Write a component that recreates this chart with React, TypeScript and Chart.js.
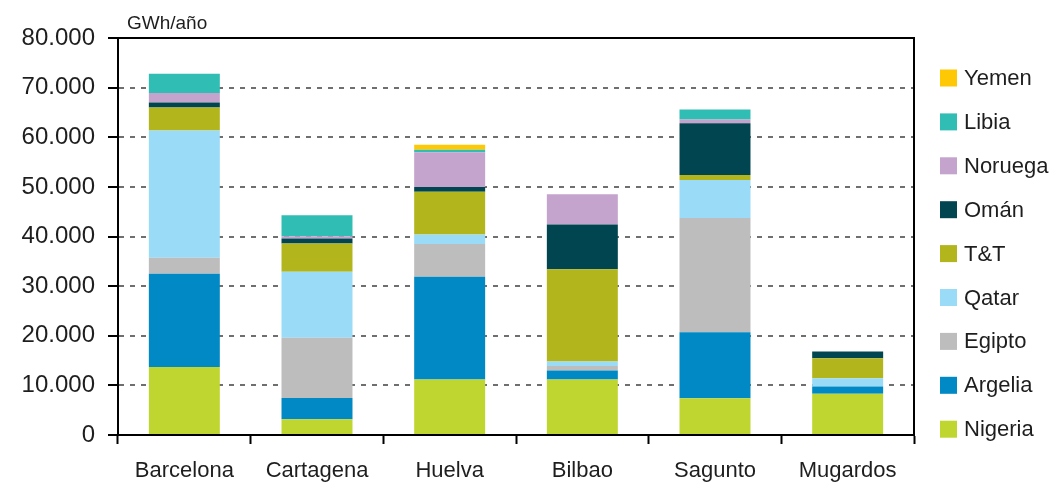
import React, { useEffect, useRef } from "react";
import { Chart, registerables } from "chart.js";

Chart.register(...registerables);

const categories = ["Barcelona", "Cartagena", "Huelva", "Bilbao", "Sagunto", "Mugardos"];
const nigeria = [13700, 3150, 11200, 11200, 7400, 8300];
const argelia = [18800, 4300, 20700, 1800, 13300, 1450];
const egipto = [3200, 12150, 6600, 900, 23050, 0];
const qatar = [25650, 13300, 1900, 900, 7650, 1700];
const tt = [4650, 5700, 8600, 18600, 1000, 4000];
const oman = [1000, 1000, 1000, 9000, 10400, 1400];
const noruega = [1900, 450, 7000, 6100, 800, 0];
const libia = [3900, 4250, 500, 0, 2000, 0];
const yemen = [0, 0, 1000, 0, 0, 0];

const seriesNames = ["Nigeria", "Argelia", "Egipto", "Qatar", "T&T", "Omán", "Noruega", "Libia", "Yemen"];
const seriesValues = [nigeria, argelia, egipto, qatar, tt, oman, noruega, libia, yemen];
const seriesColors = ["#BFD630", "#0089C4", "#BDBDBD", "#9ADBF8", "#B2B61C", "#004550", "#C4A3CC", "#30BDB3", "#FFC805"];

const unitLabel = "GWh/año";
const yMax = 80000;
const yStep = 10000;

const FONT = "'Liberation Sans', Arial, sans-serif";
const TEXT = "#1e1e1e";

function fmt(v: number): string {
  return String(Math.round(v)).replace(/\B(?=(\d{3})+(?!\d))/g, ".");
}

const framePlugin = {
  id: "frameAndLegend",
  afterDraw(chart: any) {
    const { ctx, chartArea } = chart;
    ctx.save();
    ctx.strokeStyle = "#000";
    ctx.lineWidth = 2;
    ctx.setLineDash([]);
    ctx.beginPath();
    ctx.moveTo(chartArea.left, chartArea.top);
    ctx.lineTo(chartArea.right, chartArea.top);
    ctx.lineTo(chartArea.right, chartArea.bottom);
    ctx.stroke();

    ctx.fillStyle = TEXT;
    ctx.font = `19px ${FONT}`;
    ctx.textBaseline = "middle";
    ctx.textAlign = "left";
    ctx.fillText(unitLabel, chartArea.left + 9, chartArea.top - 14);

    const ds = chart.data.datasets.slice().reverse();
    const boxX = chartArea.right + 26;
    const textX = boxX + 24;
    const startY = chartArea.top + 40;
    const step = 43.9;
    const box = 17;
    ctx.font = `22px ${FONT}`;
    ds.forEach((d: any, i: number) => {
      const cy = startY + i * step;
      ctx.fillStyle = d.backgroundColor;
      ctx.fillRect(boxX, cy - box / 2, box, box);
      ctx.fillStyle = TEXT;
      ctx.fillText(d.label, textX, cy + 1);
    });
    ctx.restore();
  },
};

export default function App() {
  const ref = useRef<HTMLCanvasElement | null>(null);

  useEffect(() => {
    if (!ref.current) return;
    const chart = new Chart(ref.current, {
      type: "bar",
      data: {
        labels: categories,
        datasets: seriesNames.map((name, i) => ({
          label: name,
          data: seriesValues[i],
          backgroundColor: seriesColors[i],
          borderWidth: 0,
          barPercentage: 0.535,
          categoryPercentage: 1,
        })),
      },
      options: {
        responsive: false,
        animation: false,
        layout: { padding: { left: 0, right: 140, top: 38, bottom: 0 } },
        plugins: {
          legend: { display: false },
          tooltip: { enabled: false },
        },
        scales: {
          x: {
            stacked: true,
            afterFit: (scale: any) => {
              scale.height = 52;
            },
            grid: {
              offset: true,
              drawOnChartArea: false,
              drawTicks: true,
              tickLength: 9,
              tickColor: "#000",
              tickWidth: 2,
            },
            border: { display: true, color: "#000", width: 2 },
            ticks: {
              color: TEXT,
              font: { family: FONT, size: 22 },
              padding: 14,
              maxRotation: 0,
            },
          },
          y: {
            stacked: true,
            min: 0,
            max: yMax,
            afterFit: (scale: any) => {
              scale.width = 118;
            },
            grid: {
              color: (ctx: any) =>
                ctx.tick && (ctx.tick.value === 0 || ctx.tick.value === yMax) ? "rgba(0,0,0,0)" : "#6f6f6f",
              lineWidth: 2,
              drawTicks: true,
              tickLength: 10,
              tickColor: "#000",
              tickWidth: 2,
              tickBorderDash: [],
            },
            border: { display: true, color: "#000", width: 2, dash: [5, 6] },
            ticks: {
              stepSize: yStep,
              color: TEXT,
              font: { family: FONT, size: 24 },
              padding: 13,
              callback: (v: any) => fmt(Number(v)),
            },
          },
        },
      },
      plugins: [framePlugin],
    });
    return () => chart.destroy();
  }, []);

  return (
    <div style={{ position: "absolute", left: 0, top: 0, width: 1054, height: 487, background: "#fff" }}>
      <canvas ref={ref} width={1054} height={487} style={{ display: "block" }} />
    </div>
  );
}
